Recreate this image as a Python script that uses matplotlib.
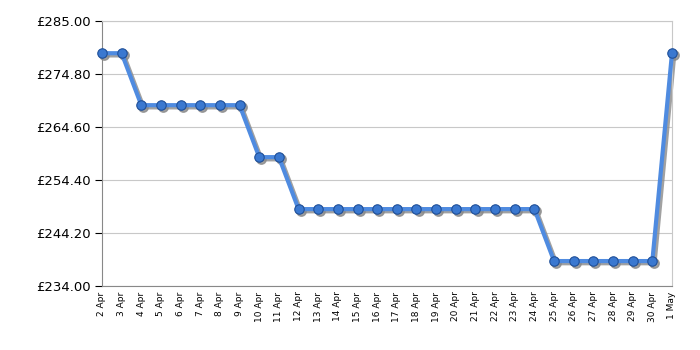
import matplotlib
matplotlib.use("Agg")
import matplotlib.pyplot as plt
import matplotlib.transforms as mtransforms
import numpy as np

dates = ["2 Apr", "3 Apr", "4 Apr", "5 Apr", "6 Apr", "7 Apr", "8 Apr", "9 Apr", "10 Apr",
         "11 Apr", "12 Apr", "13 Apr", "14 Apr", "15 Apr", "16 Apr", "17 Apr", "18 Apr",
         "19 Apr", "20 Apr", "21 Apr", "22 Apr", "23 Apr", "24 Apr", "25 Apr", "26 Apr",
         "27 Apr", "28 Apr", "29 Apr", "30 Apr", "1 May"]
prices = [278.8, 278.8, 268.8, 268.8, 268.8, 268.8, 268.8, 268.8, 258.8, 258.8,
          248.8, 248.8, 248.8, 248.8, 248.8, 248.8, 248.8, 248.8, 248.8, 248.8,
          248.8, 248.8, 248.8, 238.8, 238.8, 238.8, 238.8, 238.8, 238.8, 278.8]
yticks = [234.00, 244.20, 254.40, 264.60, 274.80, 285.00]

fig = plt.figure(figsize=(7, 3.5), dpi=100)
ax = fig.add_axes([102/700, 1-286/350, (672-102)/700, (286-21)/350])

x = np.arange(len(dates))
shadow_tr = mtransforms.offset_copy(ax.transData, fig=fig, x=1.5, y=-1.5, units="points")
ax.plot(x, prices, color="#8a8a8a", lw=3.2, marker="o", ms=6.8, markerfacecolor="#8a8a8a",
        markeredgecolor="#8a8a8a", transform=shadow_tr, zorder=2, clip_on=False, alpha=0.8)
ax.plot(x, prices, color="#4f8be0", lw=3, marker="o", ms=6.8,
        markerfacecolor="#3a78d0", markeredgecolor="#1f4f98", markeredgewidth=0.8,
        zorder=3, clip_on=False)

ax.set_xlim(0, len(dates) - 1)
ax.set_ylim(234, 285)
ax.set_yticks(yticks)
ax.set_yticklabels([f"£{v:.2f}" for v in yticks], fontsize=9.5, family="DejaVu Sans")
ax.set_xticks(x)
ax.set_xticklabels(dates, rotation=90, fontsize=6.5)
ax.tick_params(axis="x", which="major", length=0, pad=4)
ax.set_xticks(x[2::3], minor=True)
ax.tick_params(axis="x", which="minor", length=5, color="black")
ax.tick_params(axis="y", length=5, color="black", pad=3)

ax.grid(True, axis="y", color="#c8c8c8", lw=0.8)
ax.grid(True, axis="x", which="minor", color="#c8c8c8", lw=0.8)
ax.set_axisbelow(True)
for s in ["left", "bottom"]:
    ax.spines[s].set_color("#888888")
for s in ["top", "right"]:
    ax.spines[s].set_color("#c8c8c8")

fig.savefig("out.png", dpi=100)
